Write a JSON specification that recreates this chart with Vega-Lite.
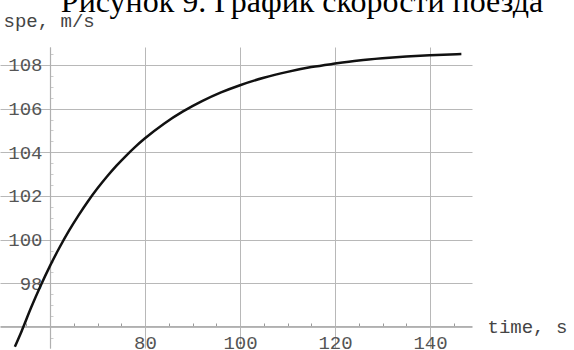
{
  "$schema": "https://vega.github.io/schema/vega-lite/v6.json",
  "autosize": {"type": "none"},
  "padding": {"left": 0, "top": 47, "right": 102, "bottom": 2},
  "width": 472,
  "height": 301,
  "background": "white",
  "title": {
    "text": "Рисунок 9. График скорости поезда",
    "font": "Liberation Serif",
    "fontSize": 32,
    "fontWeight": "normal",
    "color": "#000000",
    "anchor": "middle",
    "frame": "group",
    "dx": 66,
    "dy": 33,
    "baseline": "alphabetic",
    "offset": 0
  },
  "data": {
    "values": [
      {"time": 52.6, "spe": 95.1},
      {"time": 54, "spe": 95.8},
      {"time": 56, "spe": 96.88},
      {"time": 58, "spe": 97.88},
      {"time": 60, "spe": 98.8},
      {"time": 62, "spe": 99.64},
      {"time": 64, "spe": 100.41},
      {"time": 66, "spe": 101.11},
      {"time": 68, "spe": 101.76},
      {"time": 70, "spe": 102.35},
      {"time": 72, "spe": 102.89},
      {"time": 74, "spe": 103.39},
      {"time": 76, "spe": 103.84},
      {"time": 78, "spe": 104.26},
      {"time": 80, "spe": 104.64},
      {"time": 84, "spe": 105.31},
      {"time": 88, "spe": 105.87},
      {"time": 92, "spe": 106.34},
      {"time": 96, "spe": 106.74},
      {"time": 100, "spe": 107.07},
      {"time": 105, "spe": 107.41},
      {"time": 110, "spe": 107.68},
      {"time": 115, "spe": 107.9},
      {"time": 120, "spe": 108.06},
      {"time": 125, "spe": 108.2},
      {"time": 130, "spe": 108.3},
      {"time": 135, "spe": 108.38},
      {"time": 140, "spe": 108.44},
      {"time": 146.6, "spe": 108.5}
    ]
  },
  "resolve": {"axis": {"x": "independent", "y": "independent"}},
  "layer": [
    {
      "mark": {"type": "line", "strokeOpacity": 0},
      "encoding": {
        "x": {
          "field": "time",
          "type": "quantitative",
          "scale": {"domain": [49.47, 148.84], "nice": false, "zero": false},
          "axis": {
            "orient": "bottom",
            "offset": -22,
            "values": [55, 65, 70, 75, 85, 90, 95, 105, 110, 115, 125, 130, 135, 145],
            "labels": false,
            "grid": false,
            "domain": false,
            "ticks": true,
            "tickSize": -3,
            "tickColor": "#999999",
            "tickWidth": 1,
            "title": null
          }
        },
        "y": {
          "field": "spe",
          "type": "quantitative",
          "scale": {"domain": [95.04, 108.82], "nice": false, "zero": false},
          "axis": {
            "orient": "left",
            "offset": -50,
            "values": [95.5, 96.5, 97, 97.5, 98.5, 99, 99.5, 100.5, 101, 101.5, 102.5, 103, 103.5, 104.5, 105, 105.5, 106.5, 107, 107.5, 108.5],
            "labels": false,
            "grid": false,
            "domain": false,
            "ticks": true,
            "tickSize": -3,
            "tickColor": "#cccccc",
            "tickWidth": 1,
            "title": null
          }
        }
      }
    },
    {
      "mark": {"type": "line", "color": "#111111", "strokeWidth": 2.5, "interpolate": "monotone"},
      "encoding": {
        "x": {
          "field": "time",
          "type": "quantitative",
          "scale": {"domain": [49.47, 148.84], "nice": false, "zero": false},
          "axis": {
            "orient": "bottom",
            "offset": -22,
            "values": [60, 80, 100, 120, 140],
            "labelExpr": "datum.value == 60 ? '' : datum.label",
            "grid": true,
            "gridColor": "#b8b8b8",
            "gridWidth": 1,
            "domainColor": "#b0b0b0",
            "domainWidth": 1.2,
            "ticks": false,
            "labelFont": "Liberation Mono",
            "labelFontSize": 19,
            "labelColor": "#555555",
            "labelPadding": 7,
            "labelBaseline": "top",
            "title": "time, s",
            "titleFont": "Liberation Mono",
            "titleFontSize": 19,
            "titleFontWeight": "normal",
            "titleColor": "#444444",
            "titleX": 487,
            "titleY": 0,
            "titleAlign": "left",
            "titleBaseline": "middle",
            "titleAnchor": null
          }
        },
        "y": {
          "field": "spe",
          "type": "quantitative",
          "scale": {"domain": [95.04, 108.82], "nice": false, "zero": false},
          "axis": {
            "orient": "left",
            "offset": -50,
            "values": [96, 98, 100, 102, 104, 106, 108],
            "labelExpr": "datum.value == 96 ? '' : datum.label",
            "grid": true,
            "gridColor": "#b8b8b8",
            "gridWidth": 1,
            "domainColor": "#b0b0b0",
            "domainWidth": 1.2,
            "ticks": false,
            "labelFont": "Liberation Mono",
            "labelFontSize": 19,
            "labelColor": "#555555",
            "labelPadding": 8,
            "title": "spe, m/s",
            "titleFont": "Liberation Mono",
            "titleFontSize": 19,
            "titleFontWeight": "normal",
            "titleColor": "#444444",
            "titleAngle": 0,
            "titleX": -47,
            "titleY": -21,
            "titleAlign": "left",
            "titleBaseline": "alphabetic",
            "titleAnchor": null
          }
        }
      }
    }
  ],
  "config": {"view": {"stroke": null}}
}
